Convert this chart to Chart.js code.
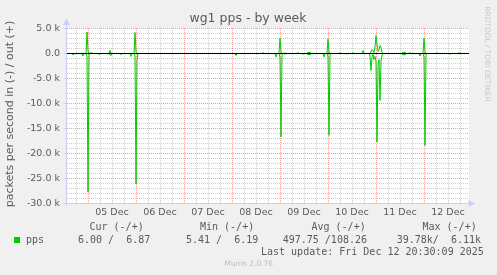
<!DOCTYPE html>
<html>
<head>
<meta charset="utf-8">
<title>wg1 pps - by week</title>
<script src="https://cdn.jsdelivr.net/npm/chart.js@4.4.1/dist/chart.umd.min.js"></script>
<style>
    html, body { margin: 0; padding: 0; background: #f0f0f0; }
    #ppsChart { display: block; }
</style>
</head>
<body>
<canvas id="ppsChart" width="497" height="275"></canvas>
<script>
// -----------------------
// - wg1 pps, week graph -
// -----------------------

// hours since 05 Dec 00:00 (one pixel = 30 min)
var hours = [-10.5, -8, -7.5, -7, -3, -2.5, -2, -1, -0.5, 0, 0.5, 1, 1.5, 2,
    5, 5.5, 6, 10.5, 11, 11.5, 12, 16, 16.5, 17, 21, 21.5, 22, 23, 23.5, 24, 24.5, 25,
    73.5, 74, 74.5, 87, 87.5, 88, 93.5, 94, 94.5, 95.5, 96, 96.5, 97, 97.5, 98, 98.5, 99,
    104.5, 105, 105.5, 107, 107.5, 108, 109.5, 110, 110.5, 111, 111.5,
    117.5, 118, 118.5, 119.5, 120, 120.5, 121, 121.5, 125.5, 126, 126.5, 129, 129.5, 130,
    132, 132.5, 133, 137, 137.5, 138,
    140.5, 141, 141.5, 142, 142.5, 143, 143.5, 144, 144.5, 145, 145.5, 146, 146.5, 147, 147.5,
    157, 157.5, 158, 158.5, 159, 160.5, 161, 161.5, 165.5, 166, 166.5,
    167.5, 168, 168.5, 169, 169.5, 174, 174.5, 175, 180.5, 181, 181.5, 185, 185.5, 186, 190.5];

// packets per second received (drawn below zero)
var inPps = [6, 6, 300, 6, 6, 500, 6, 6, 700, 27700, 200, 6, 6, 6,
    6, 250, 6, 6, 300, 400, 6, 6, 250, 6, 6, 600, 6, 6, 500, 26100, 1400, 6,
    6, 400, 6, 6, 6, 6, 6, 700, 6, 6, 800, 16700, 200, 6, 6, 150, 6,
    6, 6, 6, 6, 200, 6, 6, 300, 100, 300, 6,
    6, 700, 6, 6, 500, 16400, 200, 6, 6, 6, 6, 6, 150, 6,
    6, 6, 6, 6, 6, 6,
    6, 500, 3400, 800, 200, 1200, 600, 1500, 17700, 2500, 1200, 9400, 1500, 300, 6,
    6, 300, 200, 300, 6, 6, 6, 6, 6, 500, 6,
    6, 700, 18400, 200, 6, 6, 6, 6, 6, 150, 6, 6, 6, 6, 6];

// packets per second sent (drawn above zero)
var outPps = [7, 6, 6, 6, 6, 100, 6, 6, 4300, 500, 6, 6, 250, 6,
    6, 6, 6, 6, 600, 6, 6, 6, 6, 6, 6, 6, 6, 6, 4200, 300, 6, 6,
    6, 6, 6, 6, 200, 6, 6, 6, 6, 6, 3100, 400, 6, 6, 6, 150, 6,
    6, 200, 6, 6, 6, 6, 6, 300, 100, 300, 6,
    6, 6, 6, 6, 2900, 300, 6, 6, 6, 200, 6, 6, 6, 6,
    6, 200, 6, 6, 600, 6,
    6, 200, 300, 800, 500, 200, 1200, 3600, 1800, 400, 800, 1600, 1200, 200, 6,
    6, 300, 200, 300, 6, 6, 200, 6, 6, 6, 6,
    6, 3100, 400, 6, 6, 6, 200, 6, 6, 6, 6, 6, 200, 6, 7];

var dayLabels = ['05 Dec', '06 Dec', '07 Dec', '08 Dec', '09 Dec', '10 Dec', '11 Dec', '12 Dec'];
var yTickValues = [5000, 0, -5000, -10000, -15000, -20000, -25000, -30000];
var yTickLabels = ['5.0 k', '0.0', '-5.0 k', '-10.0 k', '-15.0 k', '-20.0 k', '-25.0 k', '-30.0 k'];

var legendHeaders = ['Cur (-/+)', 'Min (-/+)', 'Avg (-/+)', 'Max (-/+)'];
var legendValues = ['6.00 /  6.87', '5.41 /  6.19', '497.75 /108.26', '39.78k/  6.11k'];
var lastUpdate = 'Last update: Fri Dec 12 20:30:09 2025';

var GREEN = '#00cc00';
var FONT_COLOR = '#5a5a5a';
var AXIS_COLOR = '#c9cff5';
var MAJOR_GRID = '#eaa0a0';
var MINOR_GRID = '#cdcdcd';

var inData = hours.map(function (h, i) { return { x: h, y: -inPps[i] }; });
var outData = hours.map(function (h, i) { return { x: h, y: outPps[i] }; });

// extra drawing rrdtool does: canvas, dotted grid, zero rule, axes with arrows, texts
var muninPlugin = {
    id: 'munin',
    beforeDraw: function (chart) {
        var c = chart.ctx, a = chart.chartArea;
        c.save();
        c.fillStyle = '#f0f0f0';
        c.fillRect(0, 0, chart.width, chart.height);
        c.fillStyle = '#ffffff';
        c.fillRect(a.left, Math.floor(a.top), a.right - a.left, Math.ceil(a.bottom) - Math.floor(a.top));
        c.restore();
    },
    beforeDatasetsDraw: function (chart) {
        var c = chart.ctx, a = chart.chartArea;
        var top = Math.floor(a.top), bottom = Math.floor(a.bottom);
        var left = Math.round(a.left), right = Math.round(a.right);
        c.save();
        // minor first, major on top
        [false, true].forEach(function (major) {
            c.fillStyle = major ? MAJOR_GRID : MINOR_GRID;
            chart.scales.x.ticks.forEach(function (t) {
                if ((t.value % 24 === 0) !== major) return;
                var cx = Math.round(chart.scales.x.getPixelForValue(t.value));
                for (var y = top; y < bottom; y += 2) c.fillRect(cx, y, 1, 1);
            });
            chart.scales.y.ticks.forEach(function (t) {
                if ((t.value % 5000 === 0) !== major) return;
                var cy = Math.floor(chart.scales.y.getPixelForValue(t.value));
                if (cy >= bottom) return;
                for (var x = left; x < right; x += 2) c.fillRect(x, cy, 1, 1);
            });
        });
        c.restore();
    },
    afterDatasetsDraw: function (chart) {
        var c = chart.ctx, a = chart.chartArea;
        var y0 = Math.floor(chart.scales.y.getPixelForValue(0)) + 0.5;
        c.save();
        c.strokeStyle = '#000000';
        c.lineWidth = 1;
        c.beginPath();
        c.moveTo(a.left, y0);
        c.lineTo(a.right, y0);
        c.stroke();
        c.restore();
    },
    afterDraw: function (chart) {
        var c = chart.ctx, a = chart.chartArea;
        var xl = Math.floor(a.left) - 0.5, yb = Math.floor(a.bottom) + 0.5;
        c.save();
        // axes
        c.strokeStyle = AXIS_COLOR;
        c.fillStyle = AXIS_COLOR;
        c.lineWidth = 1;
        c.beginPath();
        c.moveTo(xl, yb + 2);
        c.lineTo(xl, a.top - 5);
        c.moveTo(xl - 2, yb);
        c.lineTo(a.right + 1, yb);
        yTickValues.forEach(function (v) {
            var yy = Math.floor(chart.scales.y.getPixelForValue(v)) + 0.5;
            c.moveTo(xl - 3, yy);
            c.lineTo(xl, yy);
        });
        c.stroke();
        c.beginPath();
        c.moveTo(xl, a.top - 10);
        c.lineTo(xl - 3.5, a.top - 3.5);
        c.lineTo(xl + 3.5, a.top - 3.5);
        c.closePath();
        c.fill();
        c.beginPath();
        c.moveTo(a.right + 6, yb);
        c.lineTo(a.right - 0.5, yb - 3.5);
        c.lineTo(a.right - 0.5, yb + 3.5);
        c.closePath();
        c.fill();

        // title
        c.fillStyle = FONT_COLOR;
        c.font = '12.5px "DejaVu Sans"';
        c.textAlign = 'center';
        c.textBaseline = 'alphabetic';
        c.fillText('wg1 pps - by week', 248, 22);

        // vertical label
        c.save();
        c.translate(13, 114);
        c.rotate(-Math.PI / 2);
        c.font = '11px "DejaVu Sans"';
        c.fillText('packets per second in (-) / out (+)', 0, 0);
        c.restore();

        // watermark right
        c.save();
        c.translate(485, 54);
        c.rotate(Math.PI / 2);
        c.fillStyle = '#c8c8c8';
        c.font = '7.4px "DejaVu Sans"';
        c.fillText('RRDTOOL / TOBI OETIKER', 0, 0);
        c.restore();

        // legend
        c.font = '10px "DejaVu Sans Mono"';
        c.textBaseline = 'middle';
        c.textAlign = 'left';
        var headX = [89.5, 200, 311.5, 422.5];
        var valX = [78, 186, 282.7, 396.7];
        legendHeaders.forEach(function (t, i) { c.fillText(t, headX[i], 227.5); });
        legendValues.forEach(function (t, i) { c.fillText(t, valX[i], 240.5); });
        c.fillText('pps', 26, 240.5);
        c.fillText(lastUpdate, 261, 252.5);
        c.fillStyle = GREEN;
        c.fillRect(14, 237, 6, 6);

        c.fillStyle = '#bdbdbd';
        c.font = '7.4px "DejaVu Sans"';
        c.textAlign = 'center';
        c.fillText('Munin 2.0.76', 248.7, 264.5);
        c.restore();
    }
};

var ppsChartCanvas = document.getElementById('ppsChart').getContext('2d');

var ppsChart = new Chart(ppsChartCanvas, {
    type: 'line',
    data: {
        datasets: [
            { label: 'in', data: inData, borderColor: GREEN, borderWidth: 1, pointRadius: 0, tension: 0, fill: false },
            { label: 'out', data: outData, borderColor: GREEN, borderWidth: 1, pointRadius: 0, tension: 0, fill: false }
        ]
    },
    options: {
        responsive: false,
        animation: false,
        devicePixelRatio: 1,
        layout: { padding: { top: 28.5, right: 28, bottom: 51.5, left: 0 } },
        plugins: { legend: { display: false }, tooltip: { enabled: false }, title: { display: false } },
        scales: {
            x: {
                type: 'linear',
                min: hours[0],
                max: hours[hours.length - 1],
                afterFit: function (scale) { scale.height = 20; },
                afterBuildTicks: function (scale) {
                    var t = [];
                    for (var v = -6; v <= 186; v += 6) t.push({ value: v });
                    scale.ticks = t;
                },
                grid: { display: false, drawTicks: false },
                border: { display: false },
                ticks: {
                    autoSkip: false,
                    maxRotation: 0,
                    minRotation: 0,
                    padding: 3,
                    color: FONT_COLOR,
                    font: { family: 'DejaVu Sans', size: 9.5 },
                    callback: function (value) {
                        var d = (value - 12) / 24;
                        return (d >= 0 && d === Math.floor(d) && d < dayLabels.length) ? dayLabels[d] : '';
                    }
                }
            },
            y: {
                min: -30000,
                max: 5000,
                afterFit: function (scale) { scale.width = 67; },
                afterBuildTicks: function (scale) {
                    var t = [];
                    for (var v = -30000; v <= 5000; v += 1000) t.push({ value: v });
                    scale.ticks = t;
                },
                grid: { display: false, drawTicks: false },
                border: { display: false },
                ticks: {
                    autoSkip: false,
                    padding: 7,
                    color: FONT_COLOR,
                    font: { family: 'DejaVu Sans', size: 9.5 },
                    callback: function (value) {
                        var idx = yTickValues.indexOf(value);
                        return idx >= 0 ? yTickLabels[idx] : '';
                    }
                }
            }
        }
    },
    plugins: [muninPlugin]
});
</script>
</body>
</html>
